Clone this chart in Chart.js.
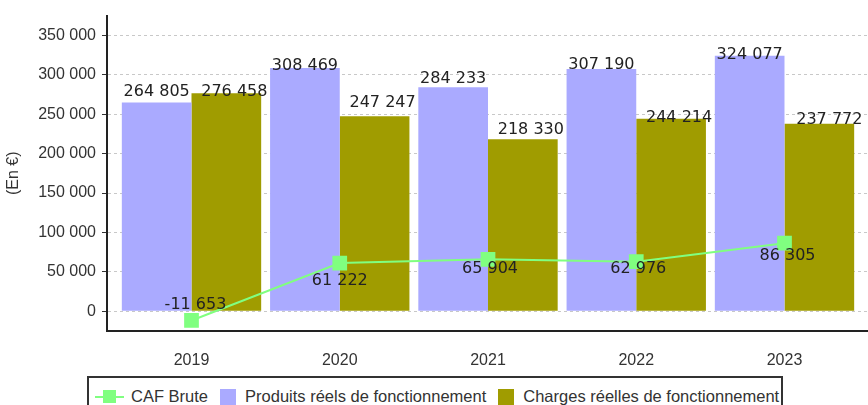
<!DOCTYPE html>
<html>
<head>
<meta charset="utf-8">
<script src="https://cdn.jsdelivr.net/npm/chart.js@4/dist/chart.umd.min.js"></script>
<style>
  body { margin: 0; width: 868px; height: 405px; overflow: hidden; background: #fff; position: relative; }
  #wrap { position: absolute; left: 0; top: 0; width: 880px; height: 368px; }
  .legend { position: absolute; left: 87px; top: 376px; width: 696px; height: 44px; border: 2px solid #333; box-sizing: border-box;
    font: 16.5px "Liberation Sans", Arial, sans-serif; color: #333; display: flex; align-items: flex-start; padding-top: 9px; padding-left: 6px; }
  .item { display: flex; align-items: center; margin-right: 12px; white-space: nowrap; }
  .sq { width: 16px; height: 16px; display: inline-block; margin-right: 9px; }
  .ln { position: relative; width: 29px; height: 16px; margin-right: 7px; }
  .ln:before { content: ""; position: absolute; left: 0; right: 0; top: 7px; height: 2px; background: #80ff80; }
  .ln:after { content: ""; position: absolute; left: 8px; top: 1px; width: 13px; height: 13px; background: #80ff80; }
</style>
</head>
<body>
<div id="wrap"><canvas id="c" width="880" height="368"></canvas></div>
<div class="legend">
  <div class="item"><span class="ln"></span>CAF Brute</div>
  <div class="item"><span class="sq" style="background:#aaaaff"></span>Produits réels de fonctionnement</div>
  <div class="item"><span class="sq" style="background:#a09c00"></span>Charges réelles de fonctionnement</div>
</div>
<script>
const years = ['2019', '2020', '2021', '2022', '2023'];
const cafBrute = [-11653, 61222, 65904, 62976, 86305];
const produits = [264805, 308469, 284233, 307190, 324077];
const charges = [276458, 247247, 218330, 244214, 237772];
const yTicks = [0, 50000, 100000, 150000, 200000, 250000, 300000, 350000];

// label nudges (px) so the texts sit like in the original
const labelShift = {
  caf: { dx: [4, 0, 2, 2, 3], dy: [-16, 18, 10, 7, 13] },
  produits: { dx: [0, 0, 0, 0, 0], dy: [-11, -2, -8, -4, -1] },
  charges: { dx: [8, 8, 8, 8, 10], dy: [-1, -13, -9, -1, -4] }
};

const fmt = v => {
  const s = Math.abs(v).toString().replace(/\B(?=(\d{3})+(?!\d))/g, ' ');
  return (v < 0 ? '-' : '') + s;
};
const pts = arr => arr.map((v, i) => ({ x: i, y: v }));

const valueLabels = {
  id: 'valueLabels',
  afterDatasetsDraw(chart) {
    const ctx = chart.ctx;
    ctx.save();
    ctx.font = '16px "DejaVu Sans"';
    ctx.fillStyle = '#222';
    ctx.textAlign = 'center';
    ctx.textBaseline = 'middle';
    chart.data.datasets.forEach((ds, di) => {
      const meta = chart.getDatasetMeta(di);
      const sh = labelShift[ds.key];
      meta.data.forEach((el, i) => {
        ctx.fillText(fmt(ds.data[i].y), el.x + sh.dx[i], el.y + sh.dy[i]);
      });
    });
    ctx.restore();
  }
};

new Chart(document.getElementById('c').getContext('2d'), {
  data: {
    datasets: [
      { key: 'caf', type: 'line', label: 'CAF Brute', data: pts(cafBrute), order: 1,
        borderColor: '#80ff80', backgroundColor: '#80ff80', borderWidth: 2,
        pointStyle: 'rect', pointRadius: 9, pointHoverRadius: 9 },
      { key: 'produits', type: 'bar', label: 'Produits réels de fonctionnement', data: pts(produits), order: 2,
        backgroundColor: '#aaaaff', categoryPercentage: 0.94, barPercentage: 1 },
      { key: 'charges', type: 'bar', label: 'Charges réelles de fonctionnement', data: pts(charges), order: 2,
        backgroundColor: '#a09c00', categoryPercentage: 0.94, barPercentage: 1 }
    ]
  },
  options: {
    responsive: false,
    animation: false,
    layout: { padding: { top: 12, right: 7, left: 0, bottom: 0 } },
    plugins: { legend: { display: false }, tooltip: { enabled: false } },
    scales: {
      x: {
        type: 'linear', min: -0.57, max: 4.57, offset: false,
        grid: { display: false },
        border: { color: '#222', width: 2 },
        ticks: { stepSize: 1, includeBounds: false, padding: 12, color: '#333',
          font: { family: 'Liberation Sans', size: 16 },
          callback: v => Number.isInteger(v) ? (years[v] || '') : '' },
        afterFit: s => { s.height = 37; }
      },
      y: {
        min: -25000, max: 375000,
        afterBuildTicks: s => { s.ticks = yTicks.map(v => ({ value: v })); },
        grid: { color: '#c8c8c8', tickColor: '#333', tickLength: 5, lineWidth: 1, tickBorderDash: [] },
        border: { color: '#222', width: 2, dash: [3, 3] },
        ticks: { color: '#333', padding: 6, font: { family: 'Liberation Sans', size: 16 }, callback: v => fmt(v) },
        title: { display: true, text: '(En €)', color: '#333', padding: { top: 4, bottom: 0 },
          font: { family: 'Liberation Sans', size: 16 } },
        afterFit: s => { s.width = 107; }
      }
    }
  },
  plugins: [valueLabels]
});
</script>
</body>
</html>
